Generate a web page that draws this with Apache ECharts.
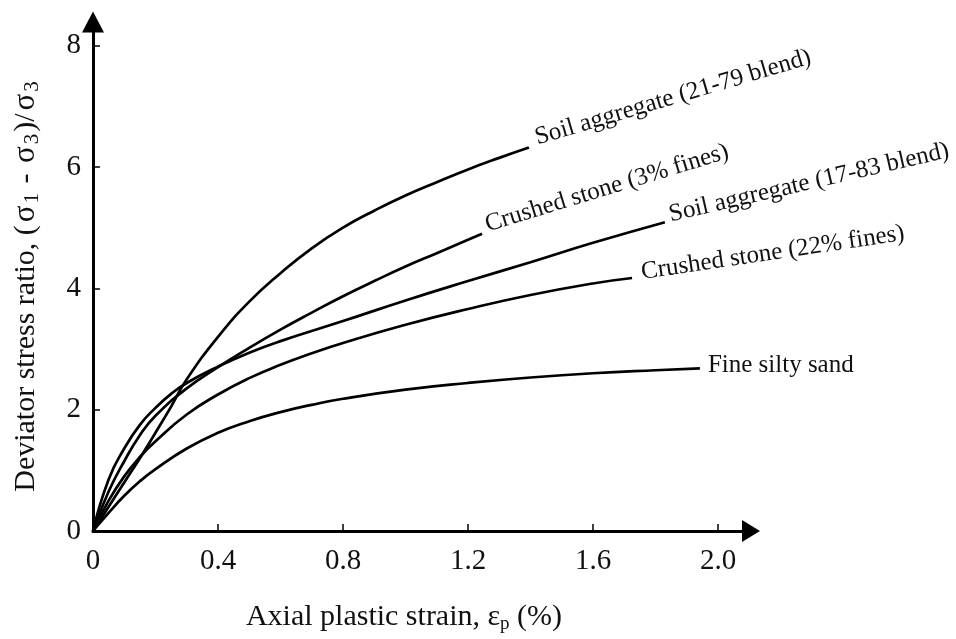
<!DOCTYPE html>
<html>
<head>
<meta charset="utf-8">
<script src="https://cdn.jsdelivr.net/npm/echarts@6/dist/echarts.min.js"></script>
<style>
html,body{margin:0;padding:0;background:#fff;}
#chart{width:956px;height:639px;}
</style>
</head>
<body>
<div id="chart"></div>
<script>
// ---------- data ----------
const xTickValues = [0, 0.4, 0.8, 1.2, 1.6, 2.0];
const xTickLabels = ['0', '0.4', '0.8', '1.2', '1.6', '2.0'];
const yTickValues = [0, 2, 4, 6, 8];
const yTickLabels = ['0', '2', '4', '6', '8'];

const seriesNames = [
  'Soil aggregate (21-79 blend)',
  'Crushed stone (3% fines)',
  'Soil aggregate (17-83 blend)',
  'Crushed stone (22% fines)',
  'Fine silty sand'
];

const soil2179X = [0, 0.05, 0.1, 0.15, 0.2, 0.25, 0.3, 0.4, 0.5, 0.6, 0.7, 0.8, 0.9, 1.0, 1.1, 1.2, 1.3, 1.395];
const soil2179Y = [0, 0.4, 0.8, 1.2, 1.62, 2.05, 2.5, 3.2, 3.78, 4.25, 4.66, 5.0, 5.28, 5.53, 5.75, 5.96, 6.15, 6.32];

const crushed3X = [0, 0.05, 0.1, 0.15, 0.2, 0.3, 0.4, 0.5, 0.6, 0.7, 0.8, 0.9, 1.0, 1.1, 1.2, 1.245];
const crushed3Y = [0, 0.65, 1.15, 1.58, 1.9, 2.35, 2.7, 3.02, 3.32, 3.6, 3.87, 4.12, 4.36, 4.58, 4.8, 4.9];

const soil1783X = [0, 0.05, 0.1, 0.15, 0.2, 0.25, 0.3, 0.4, 0.5, 0.6, 0.8, 1.0, 1.2, 1.4, 1.6, 1.83];
const soil1783Y = [0, 0.85, 1.36, 1.75, 2.03, 2.26, 2.44, 2.71, 2.94, 3.13, 3.46, 3.8, 4.12, 4.43, 4.75, 5.09];

const crushed22X = [0, 0.05, 0.1, 0.15, 0.2, 0.3, 0.4, 0.5, 0.6, 0.7, 0.8, 1.0, 1.2, 1.4, 1.6, 1.725];
const crushed22Y = [0, 0.5, 0.9, 1.22, 1.48, 1.92, 2.25, 2.52, 2.74, 2.93, 3.1, 3.4, 3.66, 3.89, 4.08, 4.17];

const siltyX = [0, 0.05, 0.1, 0.15, 0.2, 0.3, 0.4, 0.5, 0.6, 0.7, 0.8, 1.0, 1.2, 1.4, 1.6, 1.8, 1.942];
const siltyY = [0, 0.3, 0.58, 0.82, 1.02, 1.36, 1.62, 1.81, 1.96, 2.08, 2.18, 2.33, 2.44, 2.53, 2.6, 2.65, 2.68];

// ---------- styling (not data) ----------
const FONT = "'Liberation Serif', 'Times New Roman', serif";
const labelLayout = [
  { angle: 16.5, gap: 9, up: 7 },
  { angle: 17, gap: 6, up: 7 },
  { angle: 13, gap: 6, up: 6 },
  { angle: 8.5, gap: 10, up: 4 },
  { angle: 0, gap: 8, up: 3 }
];

const allX = [soil2179X, crushed3X, soil1783X, crushed22X, siltyX];
const allY = [soil2179Y, crushed3Y, soil1783Y, crushed22Y, siltyY];

function pairs(xs, ys) { return xs.map((x, i) => [x, ys[i]]); }
function labelFor(values, labels) {
  return function (v) {
    for (let i = 0; i < values.length; i++) if (Math.abs(values[i] - v) < 1e-9) return labels[i];
    return '';
  };
}

const chart = echarts.init(document.getElementById('chart'), null, { renderer: 'canvas' });

const series = seriesNames.map((name, i) => ({
  name: name,
  type: 'line',
  data: pairs(allX[i], allY[i]),
  showSymbol: false,
  smooth: 0.5,
  lineStyle: { color: '#000', width: 2.7 },
  silent: true
}));

chart.setOption({
  animation: false,
  backgroundColor: '#fff',
  grid: { left: 93, right: 205, top: 22, bottom: 106, containLabel: false },
  xAxis: {
    type: 'value',
    min: 0,
    max: 2.1056,
    interval: 0.4,
    splitLine: { show: false },
    axisLine: {
      show: true,
      lineStyle: { color: '#000', width: 3 },
      symbol: ['none', 'triangle'],
      symbolSize: [22, 18]
    },
    axisTick: { show: true, inside: true, length: 7, lineStyle: { color: '#000', width: 1.5 }, customValues: xTickValues },
    axisLabel: {
      customValues: xTickValues,
      formatter: labelFor(xTickValues, xTickLabels),
      fontFamily: FONT, fontSize: 29, color: '#111', margin: 16
    },
    name: 'Axial plastic strain, ε{sub|p} (%)',
    nameLocation: 'middle',
    nameGap: 69,
    nameTextStyle: {
      fontFamily: FONT, fontSize: 30, color: '#111', lineHeight: 34,
      padding: [0, 36, 0, 0],
      rich: { sub: { fontFamily: FONT, fontSize: 19, lineHeight: 18, verticalAlign: 'bottom', color: '#111' } }
    }
  },
  yAxis: {
    type: 'value',
    min: 0,
    max: 8.39,
    interval: 2,
    splitLine: { show: false },
    axisLine: {
      show: true,
      lineStyle: { color: '#000', width: 3 },
      symbol: ['none', 'triangle'],
      symbolSize: [22, 21]
    },
    axisTick: { show: true, inside: true, length: 7, lineStyle: { color: '#000', width: 1.5 }, customValues: yTickValues },
    axisLabel: {
      customValues: yTickValues,
      formatter: labelFor(yTickValues, yTickLabels),
      fontFamily: FONT, fontSize: 29, color: '#111', margin: 12
    },
    name: 'Deviator stress ratio, ({sg|σ}{sub|1} - {sg|σ}{sub|3})/{sg|σ}{sub|3}',
    nameLocation: 'middle',
    nameRotate: 90,
    nameGap: 50,
    nameTextStyle: {
      fontFamily: FONT, fontSize: 30, color: '#111', lineHeight: 34,
      padding: [0, 18, 0, 0],
      rich: {
        sg: { fontFamily: FONT, fontSize: 31, lineHeight: 34, padding: [0, 1, 0, 3], color: '#111' },
        sub: { fontFamily: FONT, fontSize: 21, lineHeight: 20, verticalAlign: 'bottom', padding: [0, 2, 0, 1], color: '#111' }
      }
    }
  },
  series: series
});

// curve labels placed at each curve's end, using the chart's own scales
const graphics = seriesNames.map((name, i) => {
  const xs = allX[i], ys = allY[i];
  const p = chart.convertToPixel({ gridIndex: 0 }, [xs[xs.length - 1], ys[ys.length - 1]]);
  const L = labelLayout[i];
  const th = L.angle * Math.PI / 180;
  const x = p[0] + L.gap * Math.cos(th) - L.up * Math.sin(th);
  const y = p[1] - L.gap * Math.sin(th) - L.up * Math.cos(th);
  return {
    type: 'text',
    x: x, y: y,
    rotation: th,
    silent: true,
    style: {
      text: name,
      font: "25px " + FONT,
      fill: '#111',
      align: 'left', verticalAlign: 'middle',
      textAlign: 'left', textVerticalAlign: 'middle'
    }
  };
});
chart.setOption({ graphic: graphics });
</script>
</body>
</html>
